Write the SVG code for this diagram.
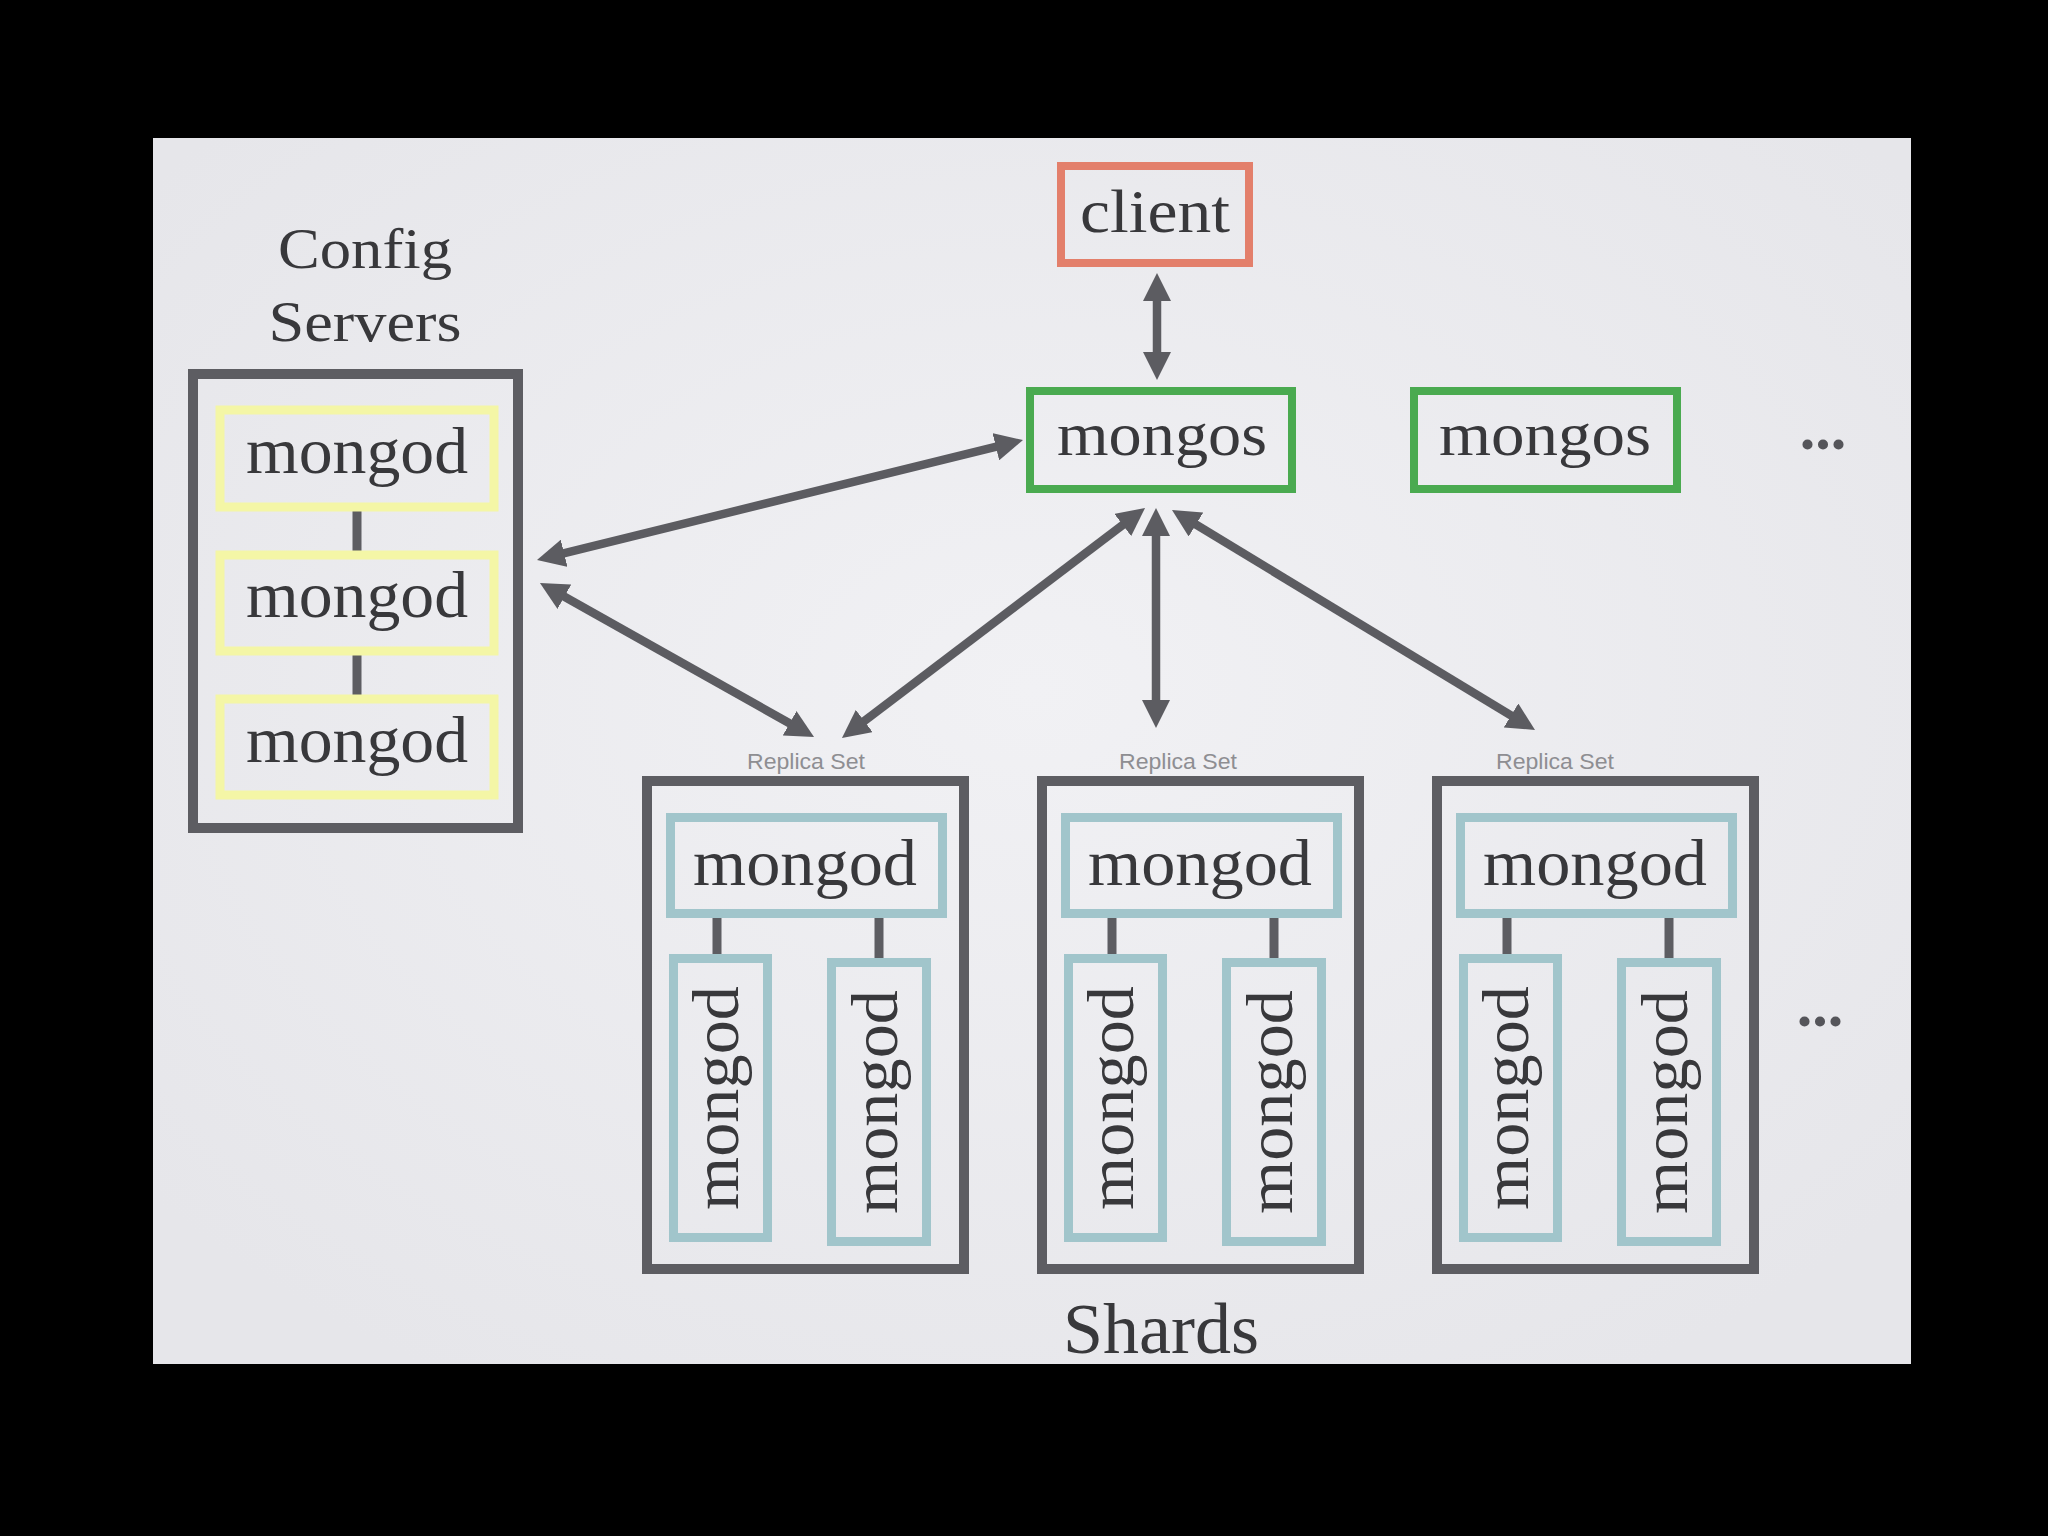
<svg xmlns="http://www.w3.org/2000/svg" width="2048" height="1536" viewBox="0 0 2048 1536">
<defs>
<radialGradient id="bg" cx="50%" cy="45%" r="65%">
<stop offset="0" stop-color="#f1f1f4"/>
<stop offset="1" stop-color="#e6e6ea"/>
</radialGradient>
<marker id="ah" viewBox="0 0 28 28" refX="8" refY="14" markerWidth="28" markerHeight="28" markerUnits="userSpaceOnUse" orient="auto-start-reverse">
<path d="M0,0 L28,14 L0,28 z" fill="#5c5c61"/>
</marker>
<style>
.frame{fill:none;stroke:#5d5d62;stroke-width:10}
.yel{fill:none;stroke:#f4f6a6;stroke-width:9}
.teal{fill:none;stroke:#a1c5cb;stroke-width:9}
.grn{fill:none;stroke:#4aaa50;stroke-width:8}
.red{fill:none;stroke:#e37f6b;stroke-width:8}
.stub{stroke:#5d5d62;stroke-width:9}
.arr{fill:none;stroke:#5c5c61;stroke-width:8.5;marker-start:url(#ah);marker-end:url(#ah)}
.t{font-family:"Liberation Serif","Times New Roman",serif;fill:#38383b;text-anchor:middle}
.big{font-size:66px}
.mid{font-size:62px}
.hd{font-size:58px}
.rs{font-family:"Liberation Sans",Arial,sans-serif;font-size:22px;fill:#8e8e92;text-anchor:middle}
.dots{font-family:"Liberation Serif","Times New Roman",serif;font-size:62px;font-weight:bold;fill:#55555a;text-anchor:middle}
</style>
</defs>
<rect x="0" y="0" width="2048" height="1536" fill="#000"/>
<rect x="153" y="138" width="1758" height="1226" fill="url(#bg)"/>

<g id="config-servers">
<text class="t hd" x="365" y="268" textLength="174" lengthAdjust="spacingAndGlyphs">Config</text>
<text class="t hd" x="365" y="341" textLength="193" lengthAdjust="spacingAndGlyphs">Servers</text>
<rect class="frame" x="193" y="374" width="325" height="454"/>
<line class="stub" x1="357" y1="511" x2="357" y2="555"/>
<line class="stub" x1="357" y1="654" x2="357" y2="699"/>
<g id="cfg-mongod-1"><rect class="yel" x="220" y="410" width="274" height="97"/><text class="t big" x="357" y="473" textLength="222" lengthAdjust="spacingAndGlyphs">mongod</text></g>
<g id="cfg-mongod-2"><rect class="yel" x="220" y="555" width="274" height="96"/><text class="t big" x="357" y="617" textLength="222" lengthAdjust="spacingAndGlyphs">mongod</text></g>
<g id="cfg-mongod-3"><rect class="yel" x="220" y="699" width="274" height="96"/><text class="t big" x="357" y="762" textLength="222" lengthAdjust="spacingAndGlyphs">mongod</text></g>
</g>

<g id="client"><rect class="red" x="1061" y="166" width="188" height="97"/><text class="t mid" x="1155" y="232" textLength="150" lengthAdjust="spacingAndGlyphs">client</text></g>
<g id="mongos-1"><rect class="grn" x="1030" y="391" width="262" height="98"/><text class="t mid" x="1162" y="455" textLength="210" lengthAdjust="spacingAndGlyphs">mongos</text></g>
<g id="mongos-2"><rect class="grn" x="1414" y="391" width="263" height="98"/><text class="t mid" x="1545" y="455" textLength="212" lengthAdjust="spacingAndGlyphs">mongos</text></g>
<text class="dots" x="1823" y="449">...</text>

<g id="replica-set-1">
<text class="rs" x="806" y="769" textLength="118" lengthAdjust="spacingAndGlyphs">Replica Set</text>
<rect class="frame" x="647" y="781" width="317" height="488"/>
<line class="stub" x1="717" y1="917" x2="717" y2="958"/>
<line class="stub" x1="879" y1="917" x2="879" y2="962"/>
<rect class="teal" x="670.5" y="817.5" width="272" height="96"/>
<text class="t big" x="805" y="885" textLength="224" lengthAdjust="spacingAndGlyphs">mongod</text>
<rect class="teal" x="673.5" y="958.5" width="94" height="279"/>
<text class="t big" transform="translate(738,1098) rotate(-90)" textLength="224" lengthAdjust="spacingAndGlyphs">mongod</text>
<rect class="teal" x="831.5" y="962.5" width="95" height="279"/>
<text class="t big" transform="translate(897,1102) rotate(-90)" textLength="224" lengthAdjust="spacingAndGlyphs">mongod</text>
</g>

<g id="replica-set-2">
<text class="rs" x="1178" y="769" textLength="118" lengthAdjust="spacingAndGlyphs">Replica Set</text>
<rect class="frame" x="1042" y="781" width="317" height="488"/>
<line class="stub" x1="1112" y1="917" x2="1112" y2="958"/>
<line class="stub" x1="1274" y1="917" x2="1274" y2="962"/>
<rect class="teal" x="1065.5" y="817.5" width="272" height="96"/>
<text class="t big" x="1200" y="885" textLength="224" lengthAdjust="spacingAndGlyphs">mongod</text>
<rect class="teal" x="1068.5" y="958.5" width="94" height="279"/>
<text class="t big" transform="translate(1133,1098) rotate(-90)" textLength="224" lengthAdjust="spacingAndGlyphs">mongod</text>
<rect class="teal" x="1226.5" y="962.5" width="95" height="279"/>
<text class="t big" transform="translate(1292,1102) rotate(-90)" textLength="224" lengthAdjust="spacingAndGlyphs">mongod</text>
</g>

<g id="replica-set-3">
<text class="rs" x="1555" y="769" textLength="118" lengthAdjust="spacingAndGlyphs">Replica Set</text>
<rect class="frame" x="1437" y="781" width="317" height="488"/>
<line class="stub" x1="1507" y1="917" x2="1507" y2="958"/>
<line class="stub" x1="1669" y1="917" x2="1669" y2="962"/>
<rect class="teal" x="1460.5" y="817.5" width="272" height="96"/>
<text class="t big" x="1595" y="885" textLength="224" lengthAdjust="spacingAndGlyphs">mongod</text>
<rect class="teal" x="1463.5" y="958.5" width="94" height="279"/>
<text class="t big" transform="translate(1528,1098) rotate(-90)" textLength="224" lengthAdjust="spacingAndGlyphs">mongod</text>
<rect class="teal" x="1621.5" y="962.5" width="95" height="279"/>
<text class="t big" transform="translate(1687,1102) rotate(-90)" textLength="224" lengthAdjust="spacingAndGlyphs">mongod</text>
</g>
<text class="dots" x="1820" y="1026">...</text>
<text class="t" x="1161" y="1353" style="font-size:72px">Shards</text>

<g id="connectors">
<line class="arr" x1="1157" y1="293" x2="1157" y2="360"/>
<line class="arr" x1="556.4" y1="555.2" x2="1003.6" y2="444.8"/>
<line class="arr" x1="557.4" y1="592.8" x2="796.6" y2="727.2"/>
<line class="arr" x1="1129.1" y1="520.1" x2="857.9" y2="725.9"/>
<line class="arr" x1="1156" y1="528" x2="1156" y2="708"/>
<line class="arr" x1="1189.1" y1="520.4" x2="1517.9" y2="719.6"/>
</g>
</svg>
